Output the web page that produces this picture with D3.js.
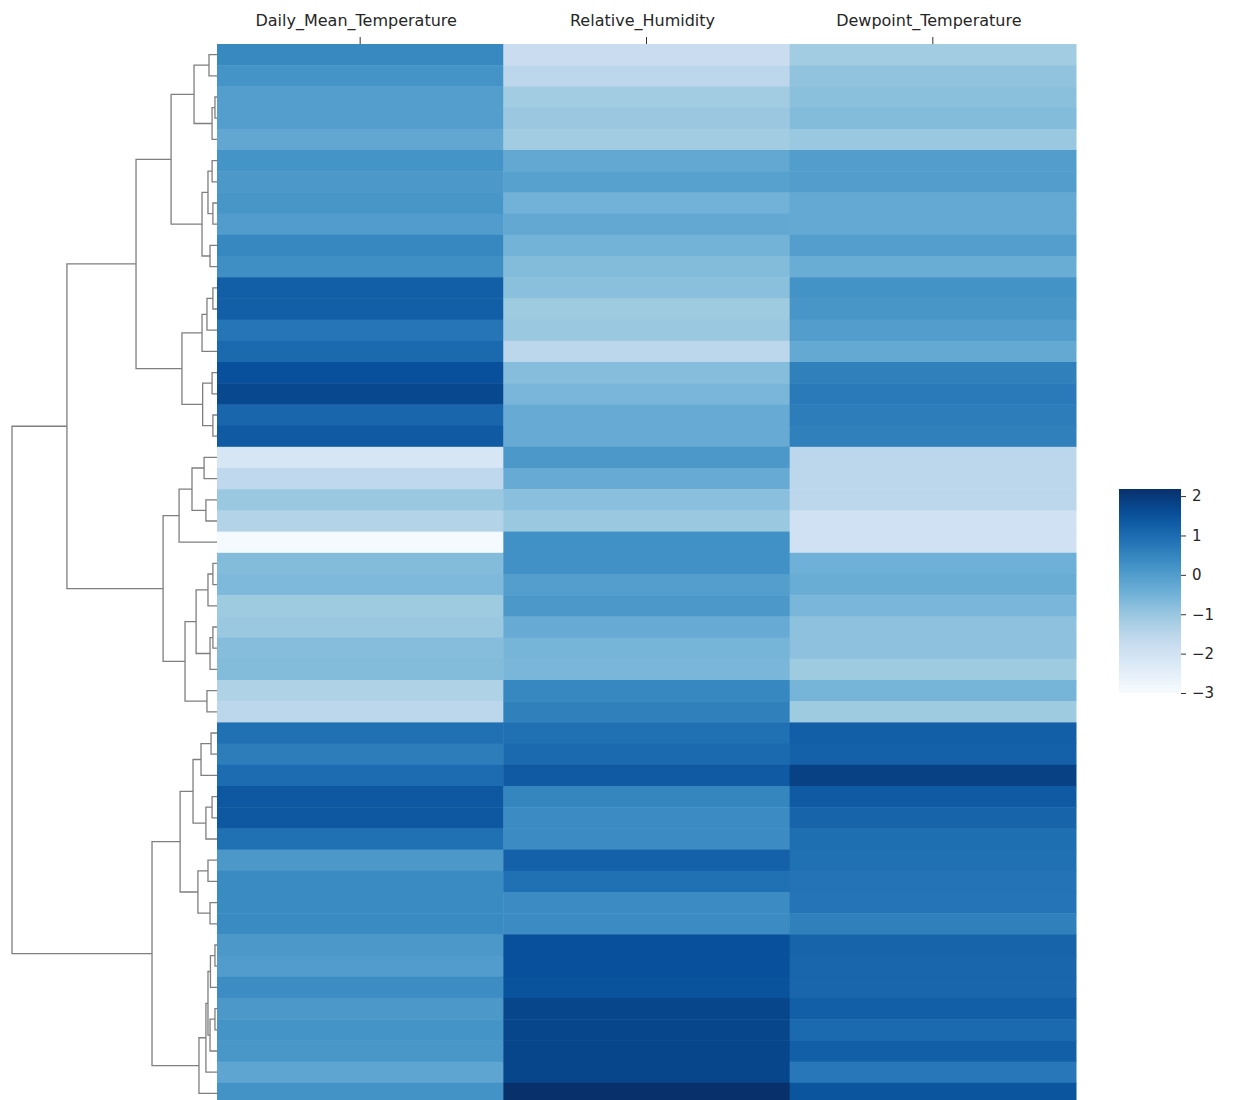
<!DOCTYPE html>
<html>
<head>
<meta charset="utf-8">
<script src="https://cdn.jsdelivr.net/npm/d3@7"></script>
<style>
  body { margin: 0; background: #fff; }
  text { font-family: "DejaVu Sans", sans-serif; fill: #262626; }
</style>
</head>
<body>
<div id="chart"></div>
<script>
// columns of the clustered heatmap
var columns = ["Daily_Mean_Temperature", "Relative_Humidity", "Dewpoint_Temperature"];

// standardized values, one entry per (reordered) row, top to bottom
var dailyMeanTemp = [0.42, 0.2, -0.05, -0.05, -0.25, 0.2, 0.1, 0.15, 0.0, 0.45,
  0.3, 1.25, 1.25, 0.8, 1.05, 1.55, 1.7, 1.1, 1.35, -2.15,
  -1.6, -1.0, -1.4, -2.95, -0.72, -0.65, -1.08, -1.0, -0.75, -0.72,
  -1.35, -1.55, 0.9, 0.65, 1.0, 1.4, 1.4, 0.9, 0.1, 0.37,
  0.37, 0.37, 0.1, 0.0, 0.33, 0.1, 0.2, 0.12, -0.2, 0.22];
var relHumidity = [-1.8, -1.55, -1.12, -1.02, -1.12, -0.27, -0.1, -0.5, -0.27, -0.52,
  -0.72, -0.82, -1.08, -1.0, -1.55, -0.75, -0.6, -0.35, -0.35, 0.1,
  -0.35, -0.8, -1.0, 0.25, 0.25, -0.05, 0.1, -0.35, -0.55, -0.6,
  0.45, 0.6, 0.9, 1.05, 1.35, 0.5, 0.35, 0.35, 1.2, 0.9,
  0.35, 0.35, 1.55, 1.55, 1.5, 1.75, 1.75, 1.75, 1.75, 2.18];
var dewpointTemp = [-1.12, -0.9, -0.82, -0.72, -1.0, -0.02, -0.02, -0.3, -0.3, -0.05,
  -0.38, 0.22, 0.15, -0.02, -0.3, 0.6, 0.7, 0.65, 0.6, -1.55,
  -1.55, -1.55, -1.95, -1.95, -0.45, -0.38, -0.6, -0.85, -0.85, -1.08,
  -0.55, -1.08, 1.25, 1.2, 1.85, 1.35, 1.15, 0.95, 0.9, 0.85,
  0.82, 0.6, 1.15, 1.1, 1.1, 1.25, 1.05, 1.25, 0.75, 1.45];

// row linkage: [childA, childB, distance]; ids >= 50 point at earlier merges (50 + index)
var merges = [
  [0, 1, 0.39], [2, 3, 0.10], [51, 4, 0.24], [50, 52, 1.12],
  [5, 6, 0.24], [7, 8, 0.20], [54, 55, 0.44], [9, 10, 0.34],
  [56, 57, 0.73], [53, 58, 2.24], [11, 12, 0.20], [60, 13, 0.49],
  [61, 14, 0.73], [15, 16, 0.24], [17, 18, 0.20], [63, 64, 0.70],
  [62, 65, 1.71], [59, 66, 3.95], [19, 20, 0.63], [21, 22, 0.54],
  [68, 69, 1.22], [70, 23, 1.85], [24, 25, 0.20], [72, 26, 0.44],
  [27, 28, 0.20], [74, 29, 0.34], [73, 75, 1.02], [30, 31, 0.49],
  [76, 77, 1.56], [71, 78, 2.63], [67, 79, 7.32], [32, 33, 0.29],
  [81, 34, 0.78], [35, 36, 0.24], [83, 37, 0.54], [82, 84, 1.17],
  [38, 39, 0.44], [40, 41, 0.34], [86, 87, 0.93], [85, 88, 1.80],
  [42, 43, 0.10], [90, 44, 0.32], [45, 46, 0.10], [92, 47, 0.34],
  [91, 93, 0.44], [94, 48, 0.54], [95, 49, 0.88], [89, 96, 3.17],
  [80, 97, 10.0]
];

var colorDomain = [-3.0, 2.18];
var cbarTicks = [2, 1, 0, -1, -2, -3];
// matplotlib "Blues"
var bluesStops = ["#f7fbff", "#deebf7", "#c6dbef", "#9ecae1", "#6baed6",
  "#4292c6", "#2171b5", "#08519c", "#08306b"];

var width = 1237, height = 1100;
var heat = {left: 217, right: 1076, top: 44, rowH: 21.2};
var dendroLeft = 12;

var svg = d3.select("#chart").append("svg")
    .attr("width", width)
    .attr("height", height);

var table = [dailyMeanTemp, relHumidity, dewpointTemp];
var nRows = dailyMeanTemp.length;

var x = d3.scaleBand().domain(columns).range([heat.left, heat.right]);
var y = d3.scaleBand().domain(d3.range(nRows)).range([heat.top, heat.top + nRows * heat.rowH]);

var color = d3.scaleLinear()
    .domain(bluesStops.map(function(c, i) { return colorDomain[0] + i * (colorDomain[1] - colorDomain[0]) / (bluesStops.length - 1); }))
    .range(bluesStops)
    .clamp(true);

// heatmap cells
var cells = [];
columns.forEach(function(c, ci) {
  table[ci].forEach(function(v, ri) { cells.push({col: c, row: ri, value: v}); });
});

svg.append("g").selectAll("rect")
  .data(cells)
  .enter().append("rect")
    .attr("x", function(d) { return x(d.col); })
    .attr("y", function(d) { return y(d.row); })
    .attr("width", x.bandwidth() + 0.5)
    .attr("height", y.bandwidth() + 0.5)
    .attr("fill", function(d) { return color(d.value); });

// column labels on top
var colAxis = svg.append("g");
colAxis.selectAll("line")
  .data(columns)
  .enter().append("line")
    .attr("x1", function(d) { return x(d) + x.bandwidth() / 2; })
    .attr("x2", function(d) { return x(d) + x.bandwidth() / 2; })
    .attr("y1", heat.top - 7)
    .attr("y2", heat.top)
    .attr("stroke", "#333")
    .attr("stroke-width", 1);
colAxis.selectAll("text")
  .data(columns)
  .enter().append("text")
    .attr("x", function(d) { return x(d) + x.bandwidth() / 2 - 4; })
    .attr("y", 26)
    .attr("text-anchor", "middle")
    .style("font-size", "16px")
    .text(function(d) { return d; });

// dendrogram
var nodes = d3.range(nRows).map(function(i) { return {id: i, row: i, dist: 0}; });
merges.forEach(function(m, i) {
  nodes.push({id: nRows + i, dist: m[2], children: [nodes[m[0]], nodes[m[1]]]});
});
var root = d3.hierarchy(nodes[nodes.length - 1]);
root.eachAfter(function(d) {
  d.py = d.children ? d3.mean(d.children, function(c) { return c.py; }) : y(d.data.row) + y.bandwidth() / 2;
});

var dx = d3.scaleLinear().domain([0, root.data.dist]).range([heat.left, dendroLeft]);

svg.append("g").selectAll("path")
  .data(root.descendants().filter(function(d) { return d.children; }))
  .enter().append("path")
    .attr("fill", "none")
    .attr("stroke", "#7f7f7f")
    .attr("stroke-width", 1.3)
    .attr("d", function(d) {
      var a = d.children[0], b = d.children[1];
      return "M" + dx(a.data.dist) + "," + a.py +
        "H" + dx(d.data.dist) +
        "V" + b.py +
        "H" + dx(b.data.dist);
    });

// colorbar
var cb = {x: 1119, w: 62, top: 489, bottom: 693};
var cy = d3.scaleLinear().domain(colorDomain).range([cb.bottom, cb.top]);

var grad = svg.append("defs").append("linearGradient")
    .attr("id", "cbar")
    .attr("x1", 0).attr("y1", 1).attr("x2", 0).attr("y2", 0);
grad.selectAll("stop")
  .data(d3.range(0, 1.0001, 0.05))
  .enter().append("stop")
    .attr("offset", function(t) { return t; })
    .attr("stop-color", function(t) { return color(colorDomain[0] + t * (colorDomain[1] - colorDomain[0])); });

svg.append("rect")
    .attr("x", cb.x)
    .attr("y", cb.top)
    .attr("width", cb.w)
    .attr("height", cb.bottom - cb.top)
    .attr("fill", "url(#cbar)");

var cbAxis = svg.append("g")
    .attr("transform", "translate(" + (cb.x + cb.w) + ",0)")
    .call(d3.axisRight(cy).tickValues(cbarTicks).tickSize(5).tickPadding(6)
      .tickFormat(function(d) { return d < 0 ? "\u2212" + Math.abs(d) : d; }));
cbAxis.select(".domain").remove();
cbAxis.selectAll("line").attr("stroke", "#333");
cbAxis.selectAll("text").style("font-size", "15px").style("font-family", "DejaVu Sans").attr("fill", "#262626");
</script>
</body>
</html>
